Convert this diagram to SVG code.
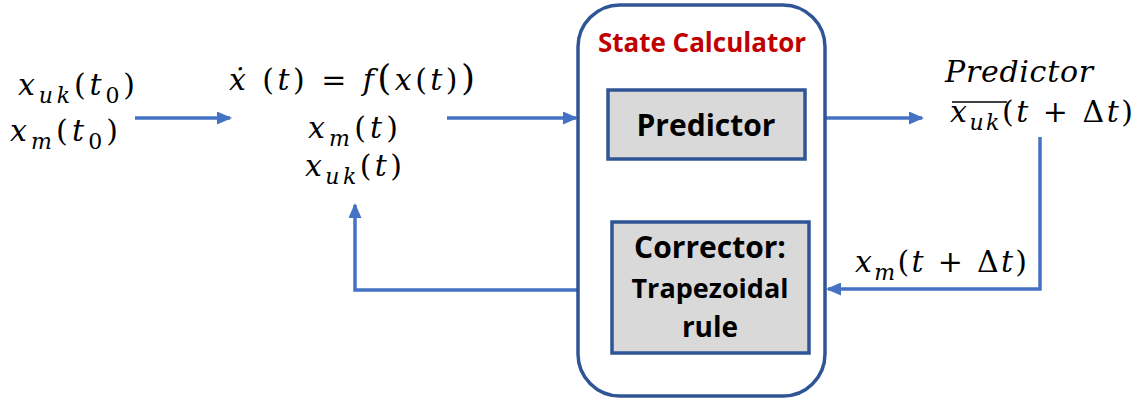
<svg xmlns="http://www.w3.org/2000/svg" width="1141" height="400" viewBox="0 0 1141 400">
<style>
.m{font-family:"DejaVu Serif","Liberation Serif",serif;font-size:30px;fill:#000}
.i{font-style:italic}
.s{font-size:22px}
.b{font-family:"Open Sans","Liberation Sans",sans-serif;font-weight:bold;fill:#000;text-anchor:middle}
.c{stroke:#4472C4;stroke-width:3.5;fill:none}
.box{fill:#D9D9D9;stroke:#2F5597;stroke-width:3.5}
</style>
<defs>
<marker id="ah" markerWidth="15" markerHeight="13" refX="13" refY="6.5" orient="auto" markerUnits="userSpaceOnUse">
<path d="M0,0 L15,6.5 L0,13 z" fill="#4472C4"/>
</marker>
</defs>
<g id="connectors">
<path class="c" d="M135,118 H230" marker-end="url(#ah)"/>
<path class="c" d="M447,118 H576" marker-end="url(#ah)"/>
<path class="c" d="M825,118 H922" marker-end="url(#ah)"/>
<path class="c" d="M1040,137 V289 H828" marker-end="url(#ah)"/>
<path class="c" d="M578,290 H355 V205" marker-end="url(#ah)"/>
</g>
<g id="initial">
<text class="m" x="18" y="95" textLength="117" lengthAdjust="spacing"><tspan class="i">x</tspan><tspan class="i s" dy="8">uk</tspan><tspan dy="-8">(</tspan><tspan class="i">t</tspan><tspan class="s" dy="8">0</tspan><tspan dy="-8">)</tspan></text>
<text class="m" x="10" y="141" textLength="108" lengthAdjust="spacing"><tspan class="i">x</tspan><tspan class="i s" dy="8">m</tspan><tspan dy="-8">(</tspan><tspan class="i">t</tspan><tspan class="s" dy="8">0</tspan><tspan dy="-8">)</tspan></text>
</g>
<g id="model">
<text class="m" x="229" y="90" textLength="246" lengthAdjust="spacing"><tspan class="i">ẋ</tspan> (<tspan class="i">t</tspan>) = <tspan class="i">f</tspan><tspan font-size="36">(</tspan><tspan class="i">x</tspan>(<tspan class="i">t</tspan>)<tspan font-size="36">)</tspan></text>
<text class="m" x="308" y="138" textLength="90" lengthAdjust="spacing"><tspan class="i">x</tspan><tspan class="i s" dy="8">m</tspan><tspan dy="-8">(</tspan><tspan class="i">t</tspan>)</text>
<text class="m" x="305" y="176" textLength="97" lengthAdjust="spacing"><tspan class="i">x</tspan><tspan class="i s" dy="8">uk</tspan><tspan dy="-8">(</tspan><tspan class="i">t</tspan>)</text>
</g>
<g id="state-calculator">
<rect x="578" y="5" width="247" height="391" rx="42" fill="#fff" stroke="#2F5597" stroke-width="3.5"/>
<text class="b" x="702" y="52" font-size="26" style="fill:#C00000">State Calculator</text>
</g>
<g id="predictor">
<rect class="box" x="608" y="90" width="197" height="69"/>
<text class="b" x="706" y="136" font-size="30">Predictor</text>
</g>
<g id="corrector">
<rect class="box" x="612" y="222" width="197" height="131"/>
<text class="b" x="710" y="258" font-size="30">Corrector:</text>
<text class="b" x="710" y="298" font-size="27">Trapezoidal</text>
<text class="b" x="710" y="337" font-size="28">rule</text>
</g>
<g id="predictor-output">
<text class="m i" x="945" y="82" textLength="148" lengthAdjust="spacing">Predictor</text>
<line x1="952" y1="102" x2="1007" y2="102" stroke="#000" stroke-width="1.5"/>
<text class="m" x="950" y="122" textLength="183" lengthAdjust="spacing"><tspan class="i">x</tspan><tspan class="i s" dy="8">uk</tspan><tspan dy="-8">(</tspan><tspan class="i">t</tspan> + Δ<tspan class="i">t</tspan>)</text>
</g>
<g id="measured">
<text class="m" x="855" y="272" textLength="172" lengthAdjust="spacing"><tspan class="i">x</tspan><tspan class="i s" dy="8">m</tspan><tspan dy="-8">(</tspan><tspan class="i">t</tspan> + Δ<tspan class="i">t</tspan>)</text>
</g>
</svg>
